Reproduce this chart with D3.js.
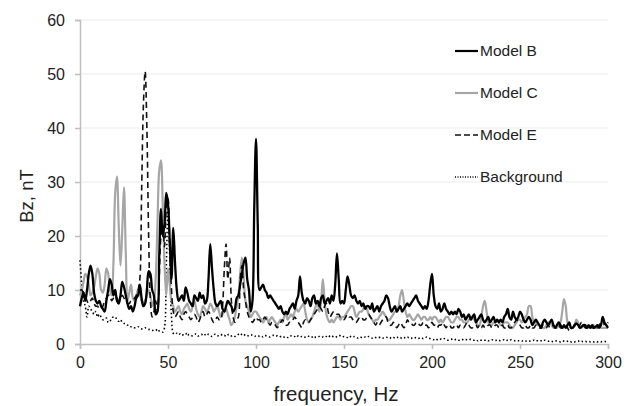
<!DOCTYPE html>
<html>
<head>
<meta charset="utf-8">
<script src="https://cdn.jsdelivr.net/npm/d3@7"></script>
<style>
  body { margin: 0; background: #fff; }
  text { font-family: "Liberation Sans", Arial, sans-serif; fill: #222; }
</style>
</head>
<body>
<div id="chart"></div>
<script>
// frequency step of the spectra, Hz (index i -> i * freqStep)
const freqStep = 1;

const seriesNames = ["Model B", "Model C", "Model E", "Background"];

const modelB = [
  7, 8.5, 9.5, 8, 10, 13, 14.5, 13, 9.5, 8,
  7.5, 8, 7, 6.5, 6, 8, 10, 12, 11, 9,
  10, 8, 7.5, 9, 11.5, 10.5, 9, 7.5, 6.5, 7,
  6, 7, 8.5, 9, 11, 8.5, 7, 7.5, 10, 13.5,
  13, 10, 9, 5.5, 6, 16, 25, 20, 22, 28,
  26, 19, 12, 21.5, 15, 10, 8, 8.5, 9, 8,
  10.5, 9.5, 8, 7.5, 7, 9, 8.5, 8, 9.5, 8.5,
  9, 7.5, 8, 12, 18.5, 14, 10, 7.5, 7, 7.5,
  8, 6.5, 6, 7, 8, 7.5, 7, 6, 6.5, 8.5,
  9, 11, 13, 15, 16, 12, 10, 6, 8, 25,
  38, 22, 10, 10.5, 11, 10, 9.5, 8.5, 9, 8.5,
  8, 7.5, 7, 6.5, 7, 6, 5.5, 6, 5.5, 6.5,
  7, 7.5, 6.5, 8, 9, 12.5, 9.5, 8, 7.5, 8.5,
  8, 7, 8.5, 9, 7.5, 8, 7, 8.5, 9, 7.5,
  8, 8.5, 7.5, 9, 8, 11, 16.8, 12, 7.5, 8,
  7.5, 10, 12.5, 11, 9, 8.5, 9, 8, 7.5, 8,
  7, 7.5, 6.5, 7, 7, 6.5, 7.5, 6, 6.5, 7,
  6, 7, 7.5, 8, 9, 8.5, 7, 6, 6.5, 7,
  6, 6.5, 7, 6, 6.5, 7, 7.5, 7, 7.5, 8,
  8.5, 9, 8, 7.5, 7, 6.5, 7, 6.5, 8, 11,
  13, 9, 7, 6.5, 7.5, 6, 6.5, 7.5, 6.5, 6,
  5.5, 6, 5.5, 6, 5.5, 6.5, 6, 5, 5.5, 4.5,
  5, 5.5, 4.5, 5, 5.5, 4, 4.5, 5, 5.5, 4.5,
  4, 4.5, 5, 4, 4.5, 5, 4, 4.5, 4, 4.5,
  4, 5, 5.5, 6.5, 5, 4.5, 6, 5, 4.5, 5,
  6, 5.5, 4.5, 4, 4.5, 5, 4.5, 3.5, 4, 4.5,
  4, 3.5, 3, 4, 4.5, 4, 3.5, 4, 4.5, 3.5,
  3, 3.5, 4, 3.5, 3, 3.5, 3, 3.5, 4, 3,
  3, 3.5, 3.8, 3.5, 3, 3.2, 3.5, 3.5, 3, 3.5,
  3, 3.5, 3, 3.2, 3.5, 3, 3.5, 5, 4, 3.5,
  3
];

const modelC = [
  9, 10, 11.5, 13, 12.5, 11, 9, 9.5, 10.5, 12.5,
  14, 13, 10, 9.5, 11, 14, 13, 10, 9, 15,
  28, 31, 22, 14.5, 21, 29, 17, 8, 9.5, 11,
  8.5, 8, 9, 10, 9.5, 8, 7.5, 8, 9, 10,
  9, 7, 8, 12, 22, 32, 34, 26, 15, 9,
  14, 11, 8, 7, 6, 6.5, 7, 6, 5.5, 6.5,
  7, 7.5, 6.5, 6, 7, 8, 6.5, 5.5, 5, 6,
  7, 6.5, 6, 6.5, 7.5, 7, 6, 6.5, 7, 6,
  5, 5.5, 6, 6.5, 5.5, 4.5, 3.5, 4, 5, 7,
  9, 13, 16, 12.5, 8, 7, 6, 5, 5.5, 6,
  6, 5.5, 5, 4.5, 4, 4.5, 5, 4, 4.5, 5,
  4.5, 4, 3.5, 4, 4.5, 4, 5, 5.5, 4.5, 5,
  5.5, 5, 6, 6.5, 6, 6.5, 7, 7.5, 6, 4.5,
  4, 4.5, 5, 6, 7, 7.5, 6, 8, 12, 8,
  5.5, 4.5, 4, 4.5, 4, 4.5, 5, 5, 4.5, 5,
  5, 5.5, 6, 6.5, 7, 7, 6, 5, 5.5, 6,
  6, 6.5, 7, 6.5, 5.5, 5, 4.5, 4, 4.5, 4.5,
  5, 5.5, 6, 5.5, 5, 4.5, 4.5, 5, 5.5, 6,
  6, 7, 9, 10, 8, 6, 5, 5.5, 5, 4.5,
  4.5, 5, 5.5, 5, 4.5, 5, 5, 4.5, 4.5, 5,
  4.5, 5, 5, 4.5, 4, 4.5, 4, 4.5, 5, 5,
  4.5, 4, 4, 4.5, 5, 5, 4.5, 4.5, 4, 4,
  4, 4.5, 5, 5, 4.5, 4, 3.5, 3.5, 5, 7,
  8, 6, 4, 3.5, 3.5, 4, 4, 4.5, 4, 3.5,
  3.5, 4, 4, 4, 3.5, 3, 3, 3.5, 4, 4.5,
  4.5, 4, 4.5, 5, 5.5, 7, 7, 5, 4, 4,
  3.5, 3.5, 3, 3, 3, 3.5, 4, 4, 3.5, 3,
  3, 3, 3.5, 4, 6, 8.3, 7, 4, 3.5, 3,
  3, 3.5, 4.5, 4, 3, 3, 3.5, 3.5, 3, 3,
  3, 3.5, 3.5, 3, 3, 3.5, 3, 3, 3, 3,
  3
];

const modelE = [
  10, 10, 9.5, 9, 8, 7.5, 8, 8.5, 7.5, 7,
  7, 6.5, 6.5, 7, 8, 8.5, 9, 9, 8, 8.5,
  9, 8.5, 8, 8.5, 9, 8.5, 8, 7.5, 7.5, 8,
  8, 8.5, 9, 10, 12, 28, 44, 50.5, 40, 20,
  8, 5, 6, 8, 6, 12, 20, 22, 18, 25,
  27, 18, 10, 6, 5, 5.5, 6, 5, 4.5, 5.5,
  6, 5.5, 5, 4.5, 5, 5.5, 5, 4, 4.5, 5.5,
  6, 5, 5.5, 6, 5.5, 4.5, 4, 4.5, 5, 4.5,
  4.5, 7, 14, 18.5, 12, 16, 8, 5, 4, 4.5,
  5, 12, 14.5, 10, 8, 6, 5, 4.5, 4, 4.5,
  5, 4.5, 4.5, 4, 4.5, 5, 4.5, 4, 3.5, 4,
  4, 3.5, 3, 3.5, 4, 4.5, 4, 3.5, 3.5, 4,
  4, 4.5, 5, 4.5, 4, 3.5, 3, 4, 4.5, 4,
  4, 4.5, 5, 5.5, 6, 6.5, 7, 6.5, 6, 7,
  7.5, 6, 5, 5.5, 6, 6, 5.5, 5.5, 5, 5,
  4.5, 5, 5.5, 5, 5, 4.5, 4, 4, 4.5, 5,
  5, 4.5, 4.5, 5, 5.5, 5, 4.5, 4, 3.5, 4,
  3.5, 4, 4.5, 5, 5, 4, 3.5, 3.5, 4, 3.5,
  3, 3.5, 4, 3.5, 3, 3.5, 4.5, 4, 4, 3.5,
  3.5, 4, 4, 3.5, 3.5, 4, 3.5, 3.5, 3, 3.5,
  4, 3.5, 3.5, 3, 3.5, 3.5, 4, 3.5, 3, 3.5,
  3.5, 3, 3, 3.5, 3.5, 3, 3.5, 3.5, 3, 3.5,
  4, 3.5, 3, 3, 3.5, 3.5, 3, 3.5, 3, 3.5,
  3, 3, 3.5, 3.5, 3, 3, 3.5, 3.5, 3, 3,
  3.5, 3, 3, 3.5, 3, 3, 3.5, 4, 4.5, 4,
  3.5, 3, 3, 3.5, 3, 3, 3.5, 3, 3, 3.5,
  3.5, 3, 3, 3.5, 3, 3, 3.5, 3, 3, 3.5,
  3, 3, 3.5, 3, 3, 3, 3.5, 3, 2.5, 3,
  3, 3.5, 3, 3, 3.5, 4, 3.5, 3, 3, 3.5,
  3.5, 3, 3, 3.5, 3, 3.5, 4, 4.5, 3.5, 3.5,
  4
];

const background = [
  15.5, 11, 8, 7, 5, 7, 6.5, 6, 5.5, 6,
  5, 5.5, 5, 4.5, 4.5, 4.8, 4, 4.2, 4.8, 5,
  5, 4.5, 4.2, 4.5, 4, 3.8, 3.8, 3.5, 3.5, 3.2,
  3.2, 3, 3, 3.2, 3, 2.8, 2.8, 3, 2.8, 2.7,
  2.7, 2.5, 2.6, 2.5, 2.8, 2.4, 2.3, 2.2, 3, 14,
  25, 16, 5, 2, 1.8, 2, 1.7, 1.9, 1.6, 1.8,
  2, 1.5, 1.8, 1.6, 1.5, 1.7, 1.9, 1.5, 1.6, 1.8,
  1.5, 1.7, 1.5, 1.8, 1.6, 1.4, 1.7, 1.8, 1.5, 1.6,
  1.8, 1.5, 1.6, 1.4, 1.7, 1.8, 1.5, 1.6, 1.4, 1.5,
  1.8, 2, 1.7, 1.5, 1.8, 1.6, 1.5, 1.7, 1.6, 1.4,
  1.5, 1.6, 1.4, 1.5, 1.3, 1.6, 1.5, 1.4, 1.3, 1.5,
  1.6, 1.4, 1.5, 1.3, 1.4, 1.5, 1.3, 1.4, 1.2, 1.5,
  1.5, 1.3, 1.4, 1.2, 1.5, 1.3, 1.4, 1.2, 1.3, 1.5,
  1.4, 1.2, 1.3, 1.5, 1.2, 1.3, 1.4, 1.2, 1.3, 1.2,
  1.4, 1.2, 1.5, 1.6, 1.3, 1.2, 1.4, 1.6, 1.5, 1.3,
  1.4, 1.3, 1.2, 1.5, 1.3, 1.2, 1.4, 1.2, 1.1, 1.3,
  1.2, 1.1, 1.3, 1.2, 1.4, 1.2, 1.1, 1.3, 1.2, 1.1,
  1.2, 1.3, 1.1, 1.2, 1.3, 1.1, 1.2, 1, 1.2, 1.1,
  1.3, 1.1, 1.2, 1, 1.2, 1.1, 1.3, 1.1, 1, 1.2,
  1.1, 1.2, 1, 1.1, 1.2, 1, 1.1, 1.3, 1.1, 1,
  0.9, 0.8, 1, 0.8, 0.7, 0.9, 0.8, 1, 0.8, 0.7,
  0.8, 0.9, 0.7, 0.8, 0.9, 0.7, 0.8, 0.9, 0.7, 0.8,
  0.8, 0.7, 0.9, 0.8, 0.7, 0.8, 0.6, 0.8, 0.7, 0.8,
  0.7, 0.8, 0.6, 0.7, 0.8, 0.7, 0.6, 0.8, 0.7, 0.6,
  0.7, 0.8, 0.6, 0.7, 0.6, 0.8, 0.7, 0.6, 0.7, 0.6,
  0.6, 0.5, 0.7, 0.6, 0.5, 0.6, 0.5, 0.6, 0.7, 0.5,
  0.6, 0.5, 0.6, 0.5, 0.7, 0.6, 0.5, 0.6, 0.5, 0.4,
  0.5, 0.6, 0.5, 0.4, 0.6, 0.5, 0.4, 0.5, 0.6, 0.4,
  0.5, 0.4, 0.5, 0.6, 0.4, 0.5, 0.4, 0.5, 0.4, 0.5,
  0.4, 0.5, 0.4, 0.5, 0.4, 0.5, 0.4, 0.5, 0.5, 0.4,
  0.5
];

const xTicks = [0, 50, 100, 150, 200, 250, 300];
const yTicks = [0, 10, 20, 30, 40, 50, 60];

const width = 633, height = 406;
const margin = { top: 20, right: 25, bottom: 62, left: 80 };

const svg = d3.select("#chart")
  .append("svg")
  .attr("width", width)
  .attr("height", height);

const x = d3.scaleLinear().domain([0, 300]).range([margin.left, width - margin.right]);
const y = d3.scaleLinear().domain([0, 60]).range([height - margin.bottom, margin.top]);

// gridlines
svg.append("g")
  .selectAll("line")
  .data(yTicks.slice(1))
  .enter()
  .append("line")
    .attr("x1", x(0))
    .attr("x2", x(300))
    .attr("y1", d => y(d))
    .attr("y2", d => y(d))
    .attr("stroke", "#ebebeb")
    .attr("stroke-width", 1);

// axes
const yAxis = svg.append("g")
  .attr("transform", `translate(${x(0)},0)`)
  .call(d3.axisLeft(y).tickValues(yTicks).tickSize(5).tickPadding(10));
const xAxis = svg.append("g")
  .attr("transform", `translate(0,${y(0)})`)
  .call(d3.axisBottom(x).tickValues(xTicks).tickSize(5).tickPadding(8));

[xAxis, yAxis].forEach(a => {
  a.select(".domain").attr("stroke", "#bfbfbf").attr("stroke-width", 1.5);
  a.selectAll(".tick line").attr("stroke", "#bfbfbf").attr("stroke-width", 1.5);
  a.selectAll("text")
    .style("font-family", "'Liberation Sans', Arial, sans-serif")
    .style("font-size", "16px")
    .attr("fill", "#222");
});

// axis titles
svg.append("text")
  .attr("x", 336)
  .attr("y", 401)
  .attr("text-anchor", "middle")
  .style("font-size", "20.5px")
  .text("frequency, Hz");

svg.append("text")
  .attr("transform", `translate(33,196) rotate(-90)`)
  .attr("text-anchor", "middle")
  .style("font-size", "18.5px")
  .text("Bz, nT");

// series
const styles = {
  "Model B":    { values: modelB,     color: "#000",    width: 2.3, dash: null },
  "Model C":    { values: modelC,     color: "#a6a6a6", width: 2.2, dash: null },
  "Model E":    { values: modelE,     color: "#111",    width: 1.6, dash: "6,4" },
  "Background": { values: background, color: "#000",    width: 1.6, dash: "1.5,2.5" }
};

const line = d3.line()
  .x((d, i) => x(i * freqStep))
  .y(d => y(d))
  .curve(d3.curveCatmullRom.alpha(0.5));

const drawOrder = ["Background", "Model C", "Model E", "Model B"];
svg.append("g")
  .selectAll("path")
  .data(drawOrder)
  .enter()
  .append("path")
    .attr("d", d => line(styles[d].values))
    .attr("fill", "none")
    .attr("stroke", d => styles[d].color)
    .attr("stroke-width", d => styles[d].width)
    .attr("stroke-dasharray", d => styles[d].dash)
    .attr("stroke-linejoin", "round");

// legend
const legend = svg.append("g").attr("transform", "translate(455,51)");
const legendItem = legend.selectAll("g")
  .data(seriesNames)
  .enter()
  .append("g")
  .attr("transform", (d, i) => `translate(0,${i * 42})`);

legendItem.append("line")
  .attr("x1", 0)
  .attr("x2", 23)
  .attr("stroke", d => styles[d].color)
  .attr("stroke-width", d => d === "Model E" ? 1.6 : (d === "Background" ? 1.4 : 2.2))
  .attr("stroke-dasharray", d => d === "Model E" ? "6,3" : (d === "Background" ? "1,1.5" : null));

legendItem.append("text")
  .attr("x", 25)
  .attr("dy", "0.35em")
  .style("font-size", "15.5px")
  .text(d => d);
</script>
</body>
</html>
